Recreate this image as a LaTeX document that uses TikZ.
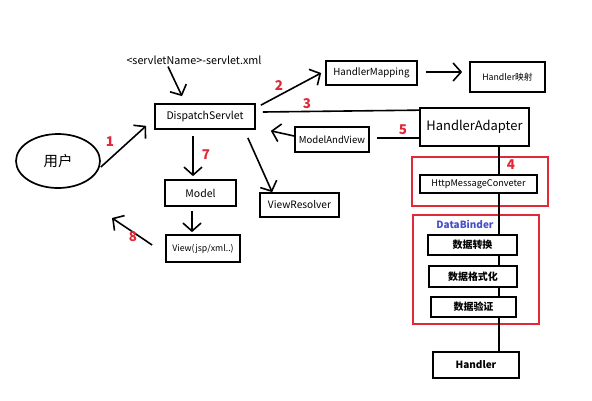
\documentclass[tikz,border=0pt]{standalone}
\usepackage{fontspec}
\setmainfont{Noto Sans CJK SC}
\usetikzlibrary{arrows.meta,shapes.geometric}
\definecolor{redc}{RGB}{226,40,56}
\definecolor{bluec}{RGB}{70,80,200}
\begin{document}
\begin{tikzpicture}[x=1bp,y=-1bp,
  box/.style={draw=black,line width=1.7bp,rectangle,inner sep=0pt,font=\fontsize{9.5}{11}\selectfont},
  redbox/.style={draw=redc,line width=1.7bp},
  num/.style={text=redc,font=\bfseries\fontsize{13.5}{14}\selectfont,inner sep=0pt},
  arr/.style={line width=1.6bp,-{Straight Barb[length=8bp,width=18bp,line width=1.6bp]}},
  ln/.style={line width=1.6bp}]
\fill[white] (0,0) rectangle (592,400);
\useasboundingbox (0,0) rectangle (592,400);

% red frames
\draw[redbox] (412,157) rectangle (548,206);
\draw[redbox] (413,215) rectangle (539,324);

% nodes
\node[inner sep=0pt,font=\fontsize{10.8}{12}\selectfont] (xml) at (194,60) {<servletName>-servlet.xml};
\node[box,minimum width=100bp,minimum height=25bp,font=\fontsize{10.5}{12}\selectfont] (DS) at (205,116.5) {DispatchServlet};
\node[draw,ellipse,line width=1.7bp,minimum width=84bp,minimum height=54bp,inner sep=0pt,font=\fontsize{14.5}{16}\selectfont] (user) at (58,161) {用户};
\node[box,minimum width=71bp,minimum height=26bp,font=\fontsize{10.5}{12}\selectfont] (Model) at (200.5,193) {Model};
\node[box,minimum width=74bp,minimum height=27bp,font=\fontsize{8.8}{10}\selectfont] (View) at (203,248.5) {View(jsp/xml..)};
\node[box,minimum width=79bp,minimum height=24bp,font=\fontsize{10.2}{12}\selectfont] (VR) at (299.5,205) {ViewResolver};
\node[box,minimum width=91bp,minimum height=24bp,font=\fontsize{9.8}{11}\selectfont] (HM) at (371.5,73) {HandlerMapping};
\node[box,minimum width=75bp,minimum height=30bp,font=\fontsize{8.8}{10}\selectfont] (HMap) at (507.5,77) {Handler映射};
\node[box,minimum width=109bp,minimum height=38bp,font=\fontsize{13}{15}\selectfont] (HA) at (474.5,127) {HandlerAdapter};
\node[box,minimum width=74bp,minimum height=25bp,font=\fontsize{9.6}{11}\selectfont] (MAV) at (332,139.5) {ModelAndView};
\node[box,minimum width=117bp,minimum height=18bp,font=\fontsize{9.2}{10}\selectfont] (HMC) at (478.5,184) {HttpMessageConveter};
\node[inner sep=0pt,text=bluec,font=\bfseries\fontsize{10}{11}\selectfont] (DB) at (465,224) {DataBinder};
\node[box,minimum width=89bp,minimum height=20bp,font=\bfseries\fontsize{10}{11}\selectfont] (conv) at (472.5,245) {数据转换};
\node[box,minimum width=88bp,minimum height=21bp,font=\bfseries\fontsize{10}{11}\selectfont] (fmt) at (473,276.5) {数据格式化};
\node[box,minimum width=85bp,minimum height=20bp,font=\bfseries\fontsize{10}{11}\selectfont] (val) at (473.5,307) {数据验证};
\node[box,minimum width=86bp,minimum height=26bp,font=\bfseries\fontsize{10}{11}\selectfont] (H) at (476,365) {Handler};

% connectors
\coordinate (xl) at (499,0);
\draw[arr] ([shift={(-26,2)}]xml.south) -- ([shift={(-23,-7)}]DS.north);
\draw[arr] ([shift={(0,6)}]user.east) -- ([shift={(-8,-4)}]DS.south west);
\draw[arr] ([shift={(5,2)}]DS.north east) -- ([shift={(-4,0)}]HM.west);
\draw[arr] ([shift={(8,-1)}]HM.east) -- ([shift={(-7,-5)}]HMap.west);
\draw[ln] ([shift={(7,-4.5)}]DS.east) -- ([shift={(0,3)}]HA.north west);
\draw[ln] ([shift={(0,11)}]HA.west) -- ([shift={(7,-1.5)}]MAV.east);
\draw[arr] ([shift={(0,-3.5)}]MAV.west) -- ([shift={(15,1)}]DS.south east);
\draw[arr] ([shift={(-12,6)}]DS.south) -- ([shift={(-7.5,-3)}]Model.north);
\draw[arr] ([shift={(-8.5,4)}]Model.south) -- ([shift={(-11,-2)}]View.north);
\draw[arr] ([shift={(-13,-3.5)}]View.west) -- ([shift={(54,57)}]user.center);
\draw[arr] ([shift={(-8,8)}]DS.south east) -- ([shift={(13,0)}]VR.north west);
\draw[ln] (HA.south -| xl) -- (HMC.north -| xl);
\draw[ln] (HMC.south -| xl) -- (conv.north -| xl);
\draw[ln] (conv.south -| xl) -- (fmt.north -| xl);
\draw[ln] (fmt.south -| xl) -- (val.north -| xl);
\draw[ln] (val.south -| xl) -- (H.north -| xl);

% numbers
\node[num] (n1) at (110,142) {1};
\node[num] (n2) at (279,86) {2};
\node[num] (n3) at (307,104) {3};
\node[num] (n4) at (511,165) {4};
\node[num] (n5) at (403,130) {5};
\node[num] (n7) at (206,155) {7};
\node[num] (n8) at (133,237) {8};
\end{tikzpicture}
\end{document}
